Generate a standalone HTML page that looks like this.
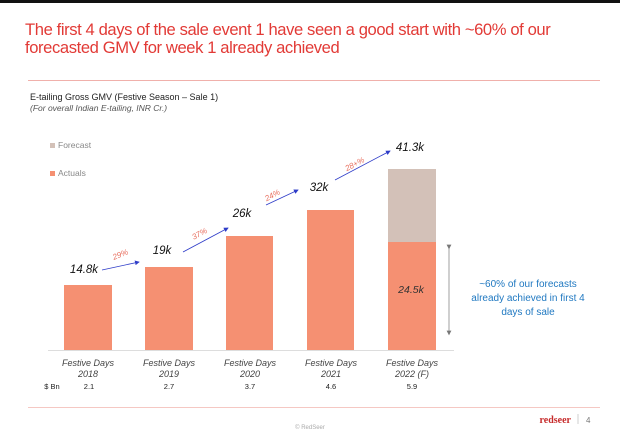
<!DOCTYPE html>
<html><head><style>
body{margin:0;width:620px;height:433px;background:#fff;overflow:hidden;font-family:"Liberation Sans",sans-serif;position:relative}
.a{position:absolute;white-space:nowrap}
.i{font-style:italic}
</style></head><body>
<div class="a" style="left:0;top:0;width:620px;height:3px;background:#111"></div>
<div class="a" style="left:25px;top:21px;font-size:16.6px;line-height:18px;color:#e23a36;letter-spacing:-0.4px">The first 4 days of the sale event 1 have seen a good start with ~60% of our<br>forecasted GMV for week 1 already achieved</div>
<div class="a" style="left:28px;top:80px;width:572px;height:1px;background:#f0b0ab"></div>
<div class="a" style="left:30px;top:92px;font-size:9px;color:#222">E-tailing Gross GMV (Festive Season – Sale 1)</div>
<div class="a i" style="left:30px;top:103px;font-size:8.5px;color:#555">(For overall Indian E-tailing, INR Cr.)</div>
<div class="a" style="left:50px;top:140px;font-size:8.5px;color:#888"><span style="display:inline-block;width:5px;height:5px;background:#d3c1b8;margin-right:3px"></span>Forecast</div>
<div class="a" style="left:50px;top:168px;font-size:8.5px;color:#888"><span style="display:inline-block;width:5px;height:5px;background:#f59072;margin-right:3px"></span>Actuals</div>
<svg class="a" style="left:0;top:0" width="620" height="433">
<defs><marker id="m" markerWidth="6" markerHeight="6" refX="5" refY="3" orient="auto"><path d="M0,0L6,3L0,6z" fill="#2e3cc8"/></marker>
<marker id="t" markerWidth="6" markerHeight="6" refX="3" refY="3" orient="auto"><path d="M0,0L6,3L0,6z" fill="#777"/></marker></defs>
<g fill="#f59072">
<rect x="64" y="285" width="48" height="65"/>
<rect x="145" y="267" width="48" height="83"/>
<rect x="226" y="236" width="47" height="114"/>
<rect x="307" y="210" width="47" height="140"/>
<rect x="388" y="242" width="48" height="108"/>
</g>
<rect x="388" y="169" width="48" height="73" fill="#d3c1b8"/>
<line x1="48" y1="350.5" x2="454" y2="350.5" stroke="#ddd"/>
<g stroke="#2e3cc8" stroke-width="0.8" marker-end="url(#m)">
<line x1="102" y1="270" x2="139" y2="262"/>
<line x1="183" y1="252" x2="228" y2="228"/>
<line x1="266" y1="205" x2="298" y2="190"/>
<line x1="335" y1="180" x2="390" y2="151"/>
</g>
<line x1="449" y1="247" x2="449" y2="333" stroke="#888" stroke-width="0.8" marker-end="url(#t)" marker-start="url(#t)"/>
<g fill="#e87060" font-size="8" font-style="italic">
<text x="112" y="258" transform="rotate(-22 118 254)">29%</text>
<text x="191" y="237" transform="rotate(-28 198 233)">37%</text>
<text x="264" y="199" transform="rotate(-28 270 195)">24%</text>
<text x="344" y="168" transform="rotate(-28 352 164)">28+%</text>
</g>
<g font-size="11.5" font-style="italic" fill="#111" text-anchor="middle">
<text x="84" y="273">14.8k</text>
<text x="162" y="254">19k</text>
<text x="242" y="217">26k</text>
<text x="319" y="191">32k</text>
<text x="410" y="151">41.3k</text>
<text x="411" y="293" fill="#333" font-size="10.5">24.5k</text>
</g>
<g font-size="9" font-style="italic" fill="#444" text-anchor="middle">
<text x="88" y="366">Festive Days</text><text x="88" y="377">2018</text>
<text x="169" y="366">Festive Days</text><text x="169" y="377">2019</text>
<text x="250" y="366">Festive Days</text><text x="250" y="377">2020</text>
<text x="331" y="366">Festive Days</text><text x="331" y="377">2021</text>
<text x="412" y="366">Festive Days</text><text x="412" y="377">2022 (F)</text>
</g>
<g font-size="7.5" fill="#222" text-anchor="middle">
<text x="52" y="389">$ Bn</text>
<text x="89" y="389">2.1</text><text x="169" y="389">2.7</text><text x="250" y="389">3.7</text><text x="331" y="389">4.6</text><text x="412" y="389">5.9</text>
</g>
<g font-size="10" fill="#1f78c1" text-anchor="middle">
<text x="528" y="287">~60% of our forecasts</text>
<text x="528" y="301">already achieved in first 4</text>
<text x="528" y="315">days of sale</text>
</g>
<line x1="28" y1="407.5" x2="600" y2="407.5" stroke="#f5c8c3"/>
<text x="571" y="423" font-family="Liberation Serif" font-weight="bold" font-size="10" fill="#c62a2a" text-anchor="end">redseer</text>
<line x1="578" y1="414" x2="578" y2="424" stroke="#bbb" stroke-width="0.7"/>
<text x="586" y="423" font-size="8" fill="#777">4</text>
<text x="310" y="429" font-size="6" fill="#aaa" text-anchor="middle">© RedSeer</text>
</svg>
</body></html>
